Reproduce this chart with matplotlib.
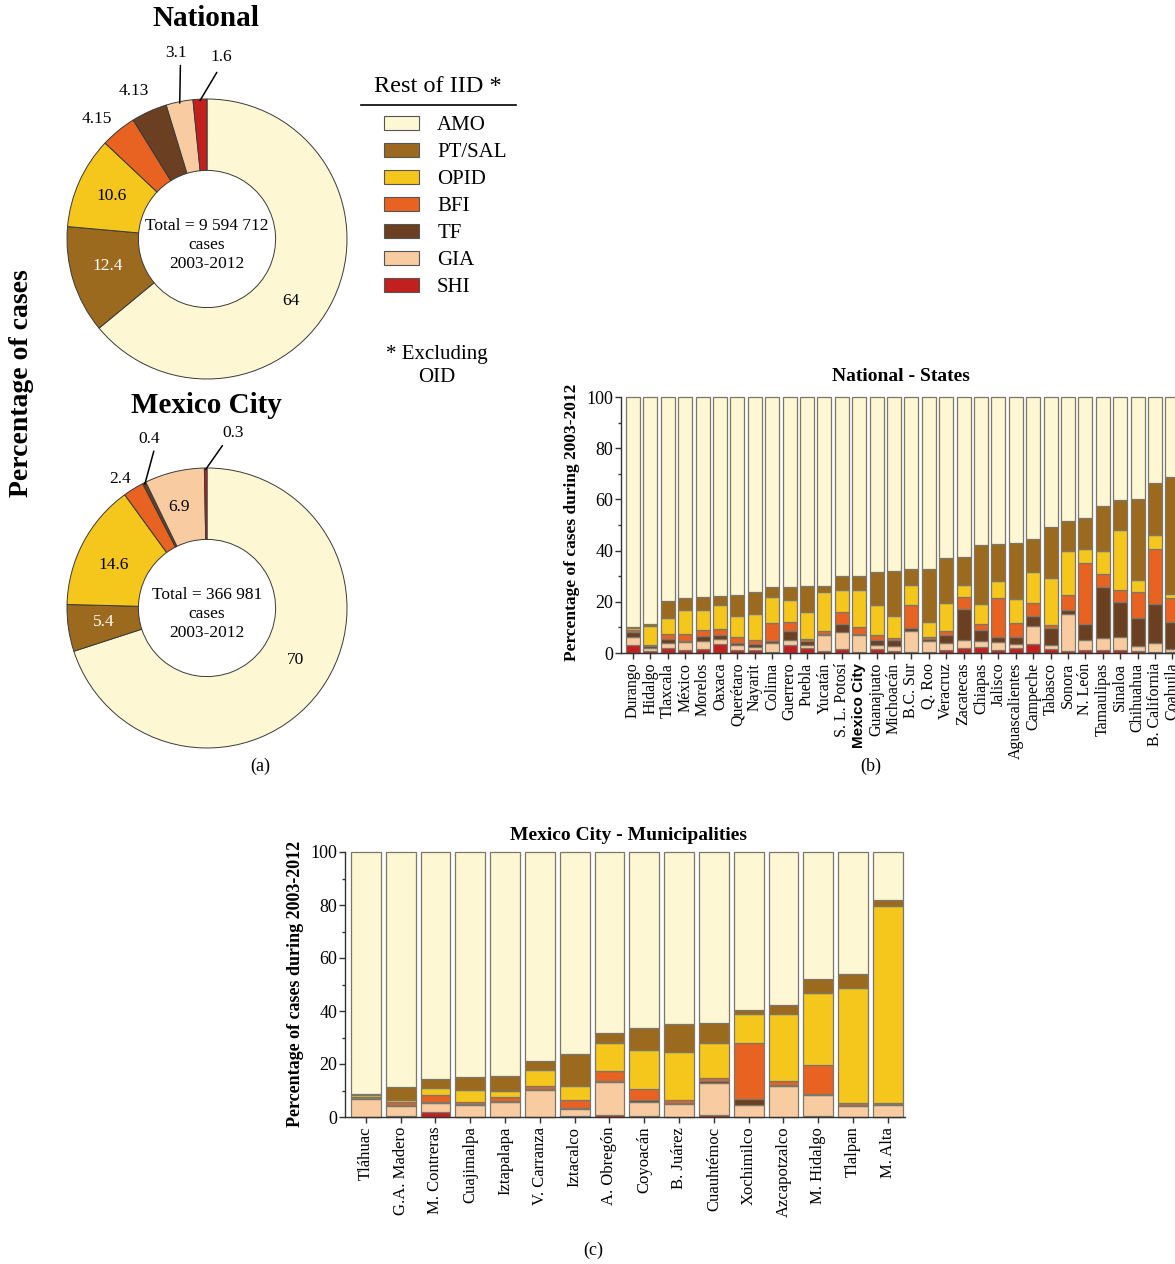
import numpy as np
import matplotlib
matplotlib.use("Agg")
import matplotlib.pyplot as plt
from matplotlib.lines import Line2D
from matplotlib.patches import Patch
from matplotlib.ticker import MultipleLocator

plt.rcParams["font.family"] = ["Liberation Serif", "DejaVu Serif"]

# ---------------------------------------------------------------- data
groups = ["AMO", "PT/SAL", "OPID", "BFI", "TF", "GIA", "SHI"]
group_colors = ["#FDF7D3", "#9C6A1F", "#F5C61C", "#E86222", "#6A3F22", "#F8CBA0", "#C21F1F"]

national_pct = [64, 12.4, 10.6, 4.15, 4.13, 3.1, 1.6]
cdmx_pct = [70, 5.4, 14.6, 2.4, 0.4, 6.9, 0.3]
national_total = "Total = 9 594 712\ncases\n2003-2012"
cdmx_total = "Total = 366 981\ncases\n2003-2012"

states = ["Durango", "Hidalgo", "Tlaxcala", "México", "Morelos", "Oaxaca", "Querétaro",
          "Nayarit", "Colima", "Guerrero", "Puebla", "Yucatán", "S. L. Potosí", "Mexico City",
          "Guanajuato", "Michoacán", "B.C. Sur", "Q. Roo", "Veracruz", "Zacatecas", "Chiapas",
          "Jalisco", "Aguascalientes", "Campeche", "Tabasco", "Sonora", "N. León", "Tamaulipas",
          "Sinaloa", "Chihuahua", "B. California", "Coahuila"]
st_shi = [3.2, 0.6, 2.1, 1.3, 1.7, 3.6, 1.3, 1.0, 0.4, 3.2, 1.8, 0.8, 1.6, 0.3, 1.6, 0.6,
          0.5, 0.3, 1.0, 1.9, 2.3, 1.3, 1.8, 3.5, 1.6, 0.9, 1.0, 1.0, 1.3, 0.8, 0.5, 0.3]
st_gia = [3.0, 1.2, 1.7, 3.1, 3.1, 1.9, 1.7, 1.2, 3.5, 2.0, 1.4, 6.1, 6.7, 6.9, 1.4, 2.0,
          7.9, 4.5, 2.9, 3.0, 2.2, 3.0, 1.8, 7.0, 1.6, 14.3, 4.2, 4.8, 4.8, 2.1, 3.5, 1.3]
st_tf = [2.0, 0.8, 1.7, 0.4, 1.8, 1.6, 1.0, 1.4, 0.6, 3.2, 1.3, 0.5, 3.1, 0.4, 2.2, 2.6,
         1.3, 0.6, 3.2, 12.1, 4.6, 1.8, 2.5, 3.9, 6.5, 1.7, 6.2, 20.0, 13.9, 10.6, 15.2, 10.6]
st_bfi = [0.9, 0.4, 1.9, 2.7, 2.4, 2.4, 2.1, 1.3, 7.1, 3.7, 1.1, 1.2, 4.7, 2.4, 1.9, 0.6,
          9.1, 0.7, 1.3, 4.8, 2.3, 15.3, 5.6, 5.3, 1.3, 5.8, 23.8, 5.2, 4.8, 10.4, 21.3, 9.1]
st_opid = [0.5, 7.5, 6.1, 9.4, 7.9, 9.3, 8.4, 10.4, 10.3, 8.5, 10.6, 15.2, 8.6, 14.6, 11.5, 8.5,
           7.8, 6.2, 11.0, 4.8, 7.6, 6.9, 9.5, 12.1, 18.4, 17.0, 5.3, 8.9, 23.4, 4.5, 5.6, 1.9]
st_ptsal = [0.7, 0.8, 7.0, 4.4, 5.0, 3.4, 8.0, 8.6, 3.8, 5.2, 9.9, 2.3, 5.3, 5.4, 13.0, 17.8,
            6.1, 20.7, 17.6, 10.9, 23.2, 14.3, 21.7, 12.6, 19.8, 11.9, 12.1, 17.5, 11.4, 31.6, 20.4, 45.4]
st_amo = [89.7, 88.7, 79.5, 78.7, 78.1, 77.8, 77.5, 76.1, 74.3, 74.2, 73.9, 73.9, 70.0, 70.0, 68.4, 67.9,
          67.3, 67.0, 63.0, 62.5, 57.8, 57.4, 57.1, 55.6, 50.8, 48.4, 47.4, 42.6, 40.4, 40.0, 33.5, 31.4]

municipalities = ["Tláhuac", "G.A. Madero", "M. Contreras", "Cuajimalpa", "Iztapalapa",
                  "V. Carranza", "Iztacalco", "A. Obregón", "Coyoacán", "B. Juárez",
                  "Cuauhtémoc", "Xochimilco", "Azcapotzalco", "M. Hidalgo", "Tlalpan", "M. Alta"]
mu_shi = [0.1, 0.2, 2.0, 0.1, 0.1, 0.1, 0.3, 0.8, 0.5, 0.1, 0.6, 0.1, 0.1, 0.4, 0.1, 0.1]
mu_gia = [6.6, 3.9, 3.4, 4.5, 5.5, 10.2, 2.8, 12.3, 5.3, 4.8, 12.1, 4.6, 11.5, 8.0, 4.2, 4.6]
mu_tf = [0.3, 0.3, 0.4, 0.3, 0.3, 0.2, 0.3, 0.5, 0.5, 0.2, 1.0, 2.1, 0.3, 0.4, 0.2, 0.3]
mu_bfi = [0.4, 1.1, 2.6, 0.6, 1.5, 1.2, 3.2, 3.9, 4.2, 1.4, 1.2, 21.2, 1.6, 10.8, 0.8, 0.1]
mu_opid = [0.8, 1.1, 2.4, 4.8, 2.4, 5.9, 5.1, 10.5, 14.6, 18.1, 13.2, 10.9, 25.4, 27.3, 43.4, 74.6]
mu_ptsal = [0.6, 4.9, 3.5, 4.8, 5.6, 3.7, 12.2, 3.6, 8.4, 10.4, 7.5, 1.3, 3.5, 5.0, 5.2, 2.1]
mu_amo = [91.2, 88.5, 85.7, 84.9, 84.6, 78.7, 76.1, 68.4, 66.5, 65.0, 64.4, 59.8, 57.6, 48.1, 46.1, 18.2]

# ---------------------------------------------------------------- figure
W, H = 1175, 1264
fig = plt.figure(figsize=(W / 100, H / 100), dpi=100)


def fx(px):
    return px / W


def fy(py):
    return 1 - py / H


def px_axes(left, top, right, bottom):
    return fig.add_axes([fx(left), fy(bottom), (right - left) / W, (bottom - top) / H])


EDGE = "#3a3a3a"


def donut(ax, values, total_text, label_specs):
    wedges, _ = ax.pie(values, colors=group_colors, startangle=90, counterclock=False,
                       radius=1.0, wedgeprops=dict(width=0.51, edgecolor=EDGE, linewidth=0.7))
    ax.set_xlim(-1, 1)
    ax.set_ylim(-1, 1)
    ax.set_aspect("equal")
    ax.axis("off")
    ax.text(0, -0.04, total_text, ha="center", va="center", fontsize=12.5, linespacing=1.25)
    for w, v, spec in zip(wedges, values, label_specs):
        tx, ty, color, leader = spec
        ax.text(tx, ty, f"{v:g}", ha="center", va="center", fontsize=12.5, color=color)
        if leader is not None:
            mid = np.deg2rad((w.theta1 + w.theta2) / 2)
            ax.annotate("", xy=(np.cos(mid) * 0.99, np.sin(mid) * 0.99), xytext=leader,
                        arrowprops=dict(arrowstyle="-", color="black", lw=1.1,
                                        shrinkA=0, shrinkB=0),
                        annotation_clip=False)


# National donut
ax_nat = px_axes(67, 99, 347, 379)
donut(ax_nat, national_pct, national_total, [
    (0.60, -0.44, "black", None),
    (-0.71, -0.19, "white", None),
    (-0.68, 0.31, "black", None),
    (-0.79, 0.86, "black", None),
    (-0.52, 1.06, "black", None),
    (-0.22, 1.33, "black", (-0.19, 1.24)),
    (0.10, 1.30, "black", (0.07, 1.19)),
])

# Mexico City donut
ax_cdmx = px_axes(67, 468, 347, 748)
donut(ax_cdmx, cdmx_pct, cdmx_total, [
    (0.63, -0.37, "black", None),
    (-0.74, -0.10, "white", None),
    (-0.67, 0.31, "black", None),
    (-0.62, 0.92, "black", None),
    (-0.41, 1.21, "black", (-0.38, 1.12)),
    (-0.20, 0.72, "black", None),
    (0.19, 1.25, "black", (0.11, 1.16)),
])

fig.text(fx(206), fy(19), "National", ha="center", va="center", fontsize=21, fontweight="bold")
fig.text(fx(206), fy(406), "Mexico City", ha="center", va="center", fontsize=21, fontweight="bold")
fig.text(fx(22), fy(383), "Percentage of cases", ha="center", va="center", rotation=90,
         fontsize=20, fontweight="bold")

# Legend block
fig.text(fx(438), fy(86), "Rest of IID *", ha="center", va="center", fontsize=17.5)
fig.add_artist(Line2D([fx(361), fx(516)], [fy(105), fy(105)], color="black", lw=1.2))
handles = [Patch(facecolor=c, edgecolor="#555555", linewidth=0.8, label=g)
           for g, c in zip(groups, group_colors)]
fig.legend(handles=handles, loc="upper left", bbox_to_anchor=(fx(384), fy(116)),
           frameon=False, fontsize=15, handlelength=1.7, handleheight=0.62,
           handletextpad=0.85, labelspacing=0.38, borderaxespad=0, borderpad=0)
fig.text(fx(437), fy(366), "* Excluding\nOID", ha="center", va="center", fontsize=15,
         linespacing=1.3)

fig.text(fx(260), fy(766), "(a)", ha="center", va="center", fontsize=13)
fig.text(fx(871), fy(766), "(b)", ha="center", va="center", fontsize=13)
fig.text(fx(593), fy(1250), "(c)", ha="center", va="center", fontsize=13)

# ---------------------------------------------------------------- stacked bars
stack_colors = ["#C21F1F", "#F8CBA0", "#6A3F22", "#E86222", "#F5C61C", "#9C6A1F", "#FDF7D3"]
BAR_EDGE = "#7c776b"


def stacked(ax, names, layers, width, tick_size, bold_name=None):
    x = np.arange(len(names))
    bottom = np.zeros(len(names))
    for vals, color in zip(layers, stack_colors):
        vals = np.asarray(vals, dtype=float)
        ax.bar(x, vals, width, bottom=bottom, color=color, edgecolor=BAR_EDGE,
               linewidth=0.9, clip_on=False)
        bottom += vals
    ax.set_ylim(0, 100)
    ax.yaxis.set_major_locator(MultipleLocator(20))
    ax.yaxis.set_minor_locator(MultipleLocator(10))
    for s in ("top", "right"):
        ax.spines[s].set_visible(False)
    for s in ("left", "bottom"):
        ax.spines[s].set_color("#333333")
        ax.spines[s].set_linewidth(1.0)
    ax.tick_params(axis="y", which="major", length=4, width=1, labelsize=13, pad=1.5,
                   color="#333333")
    ax.tick_params(axis="y", which="minor", length=2.5, width=1, color="#333333")
    ax.tick_params(axis="x", length=4, width=1, color="#333333", pad=3)
    ax.set_xticks(x)
    ax.set_xticklabels(names, rotation=90, fontsize=tick_size)
    if bold_name is not None:
        for lbl in ax.get_xticklabels():
            if lbl.get_text() == bold_name:
                lbl.set_fontfamily("Liberation Sans")
                lbl.set_fontweight("bold")
                lbl.set_fontsize(tick_size - 0.5)
    ax.set_axisbelow(False)


# States (axes continue past the right edge of the figure)
ax_st = px_axes(621, 397, 621 + 32.4 * 17.4, 653)
stacked(ax_st, states, [st_shi, st_gia, st_tf, st_bfi, st_opid, st_ptsal, st_amo], 0.8, 11.5,
        bold_name="Mexico City")
ax_st.set_xlim(-0.69, 31.71)
fig.text(fx(901), fy(377), "National - States", ha="center", va="center", fontsize=14,
         fontweight="bold")
fig.text(fx(572), fy(522), "Percentage of cases during 2003-2012", ha="center", va="center",
         rotation=90, fontsize=12.5, fontweight="bold")

# Mexico City municipalities
ax_mu = px_axes(345, 852, 345 + 16.1 * 34.8, 1117)
stacked(ax_mu, municipalities, [mu_shi, mu_gia, mu_tf, mu_bfi, mu_opid, mu_ptsal, mu_amo],
        0.86, 12)
ax_mu.set_xlim(-0.6, 15.5)
fig.text(fx(628), fy(836), "Mexico City - Municipalities", ha="center", va="center",
         fontsize=14, fontweight="bold")
fig.text(fx(296), fy(984), "Percentage of cases during 2003-2012", ha="center", va="center",
         rotation=90, fontsize=13, fontweight="bold")

fig.savefig("out.png", dpi=100)
